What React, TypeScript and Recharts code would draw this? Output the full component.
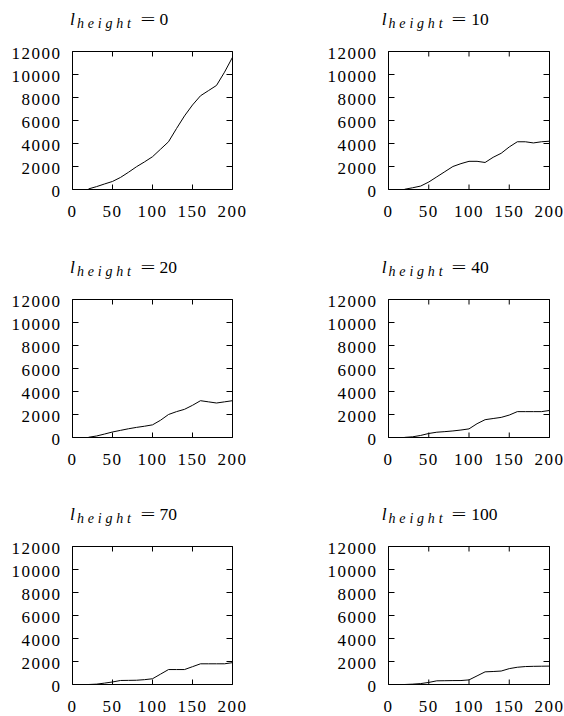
import { Line, LineChart, XAxis, YAxis } from "recharts";

// sample positions shared by every panel
const xs = [20, 30, 40, 50, 60, 70, 80, 90, 100, 110, 120, 130, 140, 150, 160, 170, 180, 190, 200];

const h0 = [50, 250, 480, 700, 1050, 1500, 1980, 2400, 2850, 3500, 4150, 5300, 6400, 7350, 8150, 8600, 9050, 10200, 11500];
const h10 = [20, 150, 300, 650, 1100, 1550, 2000, 2250, 2450, 2450, 2350, 2800, 3150, 3700, 4150, 4150, 4050, 4150, 4200];
const h20 = [20, 130, 300, 480, 620, 760, 880, 980, 1100, 1500, 2000, 2250, 2450, 2800, 3200, 3100, 3000, 3100, 3200];
const h40 = [10, 60, 180, 350, 460, 510, 570, 650, 750, 1200, 1550, 1650, 1750, 1950, 2250, 2250, 2250, 2250, 2350];
const h70 = [0, 30, 120, 220, 350, 360, 370, 420, 500, 900, 1300, 1300, 1300, 1550, 1800, 1800, 1800, 1800, 1900];
const h100 = [0, 30, 80, 180, 320, 330, 340, 345, 400, 750, 1100, 1130, 1170, 1380, 1500, 1560, 1580, 1590, 1600];

const heights = ["0", "10", "20", "40", "70", "100"];
const series = [h0, h10, h20, h40, h70, h100];

const xTicks = [0, 50, 100, 150, 200];
const yTicks = [0, 2000, 4000, 6000, 8000, 10000, 12000];

// layout of the 3x2 grid
const colLeft = [0, 316];
const colWidth = [260, 248];
const colRight = [27.5, 14.5];
const rowTop = [0, 248, 495];
const titleLeft = [70, 381.7];
const MT = 51.5; // plot top inside each svg
const ML = 12.5;
const YW = 60; // y axis width
const PH = 138; // plot height

const font = "Liberation Serif";
const label = { fontFamily: font, fontSize: 17, fill: "#000", letterSpacing: 1.5 };
const frame = { stroke: "#000", strokeWidth: 1 };

// gnuplot-like ticks: label outside, short marks inside on both sides
function makeXTick() {
  return (p: any) => {
    const x = p.x;
    const bottom = MT + PH;
    return (
      <g>
        <line x1={x} x2={x} y1={bottom} y2={bottom - 5} stroke="#000" />
        <line x1={x} x2={x} y1={MT} y2={MT + 5} stroke="#000" />
        <text x={x} y={bottom + 15} dy="0.71em" textAnchor="middle" {...label}>
          {p.payload.value}
        </text>
      </g>
    );
  };
}

function makeYTick(plotW: number) {
  return (p: any) => {
    const y = p.y;
    const left = ML + YW;
    const right = left + plotW;
    return (
      <g>
        <line x1={left} x2={left + 6} y1={y} y2={y} stroke="#000" />
        <line x1={right} x2={right - 6} y1={y} y2={y} stroke="#000" />
        <text x={left - 11} y={y} dy={7} textAnchor="end" {...label}>
          {p.payload.value}
        </text>
      </g>
    );
  };
}

function Title({ value }: { value: string }) {
  return (
    <div style={{ fontFamily: font, fontSize: 17.5, lineHeight: "20px", whiteSpace: "nowrap", color: "#000" }}>
      <span style={{ fontStyle: "italic" }}>l</span>
      <span style={{ fontStyle: "italic", fontSize: 14, letterSpacing: "3.8px", marginLeft: 2, position: "relative", top: 3 }}>
        height
      </span>
      <span style={{ display: "inline-block", transform: "scaleX(1.5)", marginLeft: 8 }}>=</span>
      <span style={{ marginLeft: 7 }}>{value}</span>
    </div>
  );
}

function Panel({ index }: { index: number }) {
  const col = index % 2;
  const row = Math.floor(index / 2);
  const data = xs.map((x, i) => ({ x, y: series[index][i] }));
  const plotW = colWidth[col] - ML - YW - colRight[col];
  return (
    <>
      <div style={{ position: "absolute", left: titleLeft[col], top: rowTop[row] + 9.1 }}>
        <Title value={heights[index]} />
      </div>
      <div style={{ position: "absolute", left: colLeft[col], top: rowTop[row] }}>
        <LineChart
          width={colWidth[col]}
          height={225}
          data={data}
          margin={{ top: MT, left: ML, right: colRight[col], bottom: 5.5 }}
        >
          <XAxis
            xAxisId="b"
            dataKey="x"
            type="number"
            domain={[0, 200]}
            ticks={xTicks}
            interval={0}
            height={30}
            axisLine={frame}
            tickLine={false}
            tickSize={0}
            tickMargin={15}
            tick={makeXTick()}
          />
          <XAxis xAxisId="tm" orientation="top" type="number" domain={[0, 200]} mirror axisLine={frame} tick={false} tickLine={false} />
          <YAxis
            yAxisId="l"
            type="number"
            domain={[0, 12000]}
            ticks={yTicks}
            interval={0}
            width={YW}
            axisLine={frame}
            tickLine={false}
            tickSize={0}
            tickMargin={11}
            tick={makeYTick(plotW)}
          />
          <YAxis yAxisId="rm" orientation="right" type="number" domain={[0, 12000]} mirror axisLine={frame} tick={false} tickLine={false} />
          <Line
            xAxisId="b"
            yAxisId="l"
            dataKey="y"
            type="linear"
            stroke="#000"
            strokeWidth={1}
            dot={false}
            isAnimationActive={false}
          />
        </LineChart>
      </div>
    </>
  );
}

export default function App() {
  return (
    <div style={{ position: "absolute", left: 0, top: 0, width: 564, height: 716, background: "#fff" }}>
      {series.map((_, i) => (
        <Panel key={i} index={i} />
      ))}
    </div>
  );
}
